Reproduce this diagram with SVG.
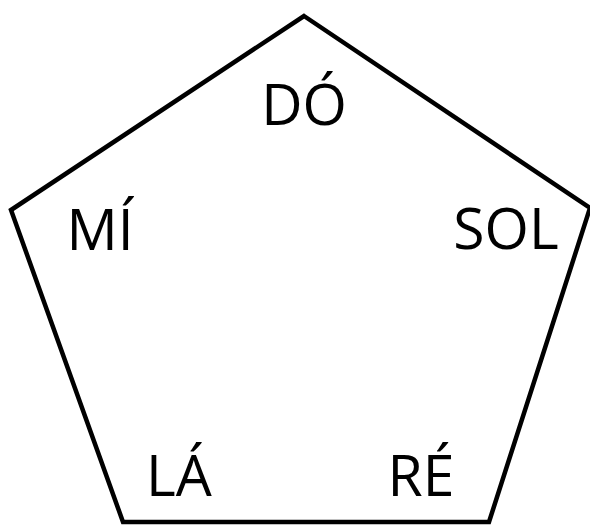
<svg xmlns="http://www.w3.org/2000/svg" width="590" height="525" viewBox="0 0 590 525">
<style>
.lbl{font-family:"Open Sans","Noto Sans",sans-serif;font-size:57px;fill:#000;text-anchor:middle}
</style>
<rect width="590" height="525" fill="#fff"/>
<g id="pentagon">
<polygon points="304,16 590,208 489,522 123,522 11,210" fill="none" stroke="#000" stroke-width="4.5" stroke-linejoin="miter"/>
</g>
<g id="node-do"><text class="lbl" x="304" y="125">DÓ</text></g>
<g id="node-mi"><text class="lbl" x="100" y="250">MÍ</text></g>
<g id="node-sol"><text class="lbl" x="506" y="249">SOL</text></g>
<g id="node-la"><text class="lbl" x="179" y="496">LÁ</text></g>
<g id="node-re"><text class="lbl" x="421" y="496">RÉ</text></g>
<g id="connectors"></g>
</svg>
